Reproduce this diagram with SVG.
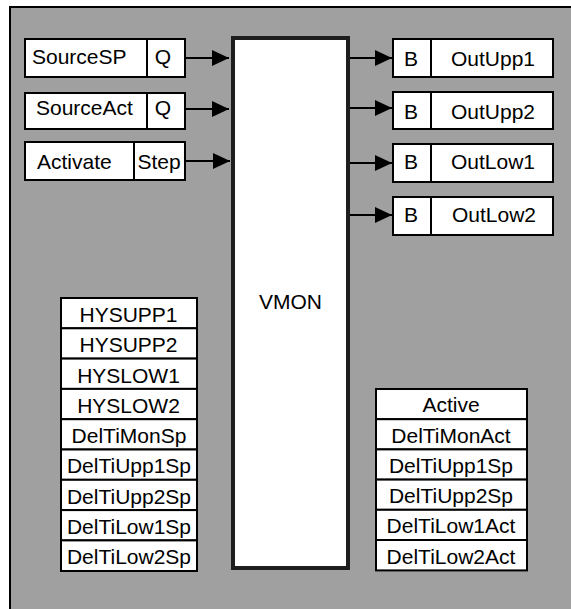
<svg xmlns="http://www.w3.org/2000/svg" width="571" height="609" viewBox="0 0 571 609">
<style>
.box{fill:#fff;stroke:#000;stroke-width:2}
.t{font-family:"Liberation Sans",Arial,sans-serif;font-size:21px;fill:#000}
.c{text-anchor:middle}
.ln{stroke:#000;stroke-width:2;fill:none;marker-end:url(#ah)}
</style>
<defs>
<marker id="ah" markerUnits="userSpaceOnUse" markerWidth="17" markerHeight="16" refX="17" refY="8" orient="auto">
<path d="M0,0 L17,8 L0,16 z" fill="#000"/>
</marker>
</defs>
<rect x="10" y="7" width="570" height="610" fill="#a0a0a0" stroke="#000" stroke-width="2"/>
<g id="vmon">
<rect x="233" y="38" width="115" height="530" fill="#fff" stroke="#1e1e1e" stroke-width="4"/>
<text class="t c" x="290.5" y="309">VMON</text>
</g>
<g id="in-sourcesp">
<rect class="box" x="25" y="39" width="160" height="38"/>
<line x1="147" y1="39" x2="147" y2="77" stroke="#000" stroke-width="2"/>
<text class="t" x="32" y="64">SourceSP</text>
<text class="t c" x="163" y="64">Q</text>
</g>
<g id="in-sourceact">
<rect class="box" x="25" y="93" width="160" height="36"/>
<line x1="147" y1="93" x2="147" y2="129" stroke="#000" stroke-width="2"/>
<text class="t" x="36" y="115">SourceAct</text>
<text class="t c" x="163" y="115">Q</text>
</g>
<g id="in-activate">
<rect class="box" x="25" y="142" width="160" height="38"/>
<line x1="134" y1="142" x2="134" y2="180" stroke="#000" stroke-width="2"/>
<text class="t" x="37" y="169">Activate</text>
<text class="t c" x="159" y="169">Step</text>
</g>
<g id="out-upp1">
<rect class="box" x="393" y="39" width="160" height="38"/>
<line x1="431" y1="39" x2="431" y2="77" stroke="#000" stroke-width="2"/>
<text class="t c" x="411" y="66">B</text>
<text class="t c" x="493" y="66">OutUpp1</text>
</g>
<g id="out-upp2">
<rect class="box" x="393" y="92" width="160" height="37"/>
<line x1="431" y1="92" x2="431" y2="129" stroke="#000" stroke-width="2"/>
<text class="t c" x="411" y="119">B</text>
<text class="t c" x="493" y="119">OutUpp2</text>
</g>
<g id="out-low1">
<rect class="box" x="393" y="144" width="160" height="38"/>
<line x1="431" y1="144" x2="431" y2="182" stroke="#000" stroke-width="2"/>
<text class="t c" x="411" y="169">B</text>
<text class="t c" x="493" y="169">OutLow1</text>
</g>
<g id="out-low2">
<rect class="box" x="393" y="197" width="160" height="38"/>
<line x1="431" y1="197" x2="431" y2="235" stroke="#000" stroke-width="2"/>
<text class="t c" x="411" y="222">B</text>
<text class="t c" x="494" y="222">OutLow2</text>
</g>
<g id="params-left">
<rect class="box" x="61" y="298" width="136" height="30.3"/>
<rect class="box" x="61" y="328.3" width="136" height="30.3"/>
<rect class="box" x="61" y="358.6" width="136" height="30.3"/>
<rect class="box" x="61" y="388.9" width="136" height="30.3"/>
<rect class="box" x="61" y="419.2" width="136" height="30.3"/>
<rect class="box" x="61" y="449.5" width="136" height="30.3"/>
<rect class="box" x="61" y="479.8" width="136" height="30.3"/>
<rect class="box" x="61" y="510.1" width="136" height="30.3"/>
<rect class="box" x="61" y="540.4" width="136" height="30.6"/>
<text class="t c" x="128.5" y="322">HYSUPP1</text>
<text class="t c" x="128.5" y="352">HYSUPP2</text>
<text class="t c" x="128.5" y="383">HYSLOW1</text>
<text class="t c" x="128.5" y="413">HYSLOW2</text>
<text class="t c" x="129" y="443">DelTiMonSp</text>
<text class="t c" x="129" y="473">DelTiUpp1Sp</text>
<text class="t c" x="129" y="504">DelTiUpp2Sp</text>
<text class="t c" x="129" y="534">DelTiLow1Sp</text>
<text class="t c" x="129" y="564">DelTiLow2Sp</text>
</g>
<g id="params-right">
<rect class="box" x="376" y="389" width="151" height="30.2"/>
<rect class="box" x="376" y="419.2" width="151" height="30.2"/>
<rect class="box" x="376" y="449.4" width="151" height="30.2"/>
<rect class="box" x="376" y="479.6" width="151" height="30.2"/>
<rect class="box" x="376" y="509.8" width="151" height="30.2"/>
<rect class="box" x="376" y="540" width="151" height="30.4"/>
<text class="t c" x="451" y="412">Active</text>
<text class="t c" x="451" y="443">DelTiMonAct</text>
<text class="t c" x="451" y="473">DelTiUpp1Sp</text>
<text class="t c" x="451" y="503">DelTiUpp2Sp</text>
<text class="t c" x="451" y="533">DelTiLow1Act</text>
<text class="t c" x="451" y="564">DelTiLow2Act</text>
</g>
<g id="connectors">
<line class="ln" x1="185" y1="58" x2="229" y2="58"/>
<line class="ln" x1="185" y1="109" x2="229" y2="109"/>
<line class="ln" x1="185" y1="161" x2="230" y2="161"/>
<line class="ln" x1="350" y1="58" x2="392" y2="58"/>
<line class="ln" x1="350" y1="108" x2="392" y2="108"/>
<line class="ln" x1="350" y1="163" x2="392" y2="163"/>
<line class="ln" x1="350" y1="215" x2="392" y2="215"/>
</g>
</svg>
